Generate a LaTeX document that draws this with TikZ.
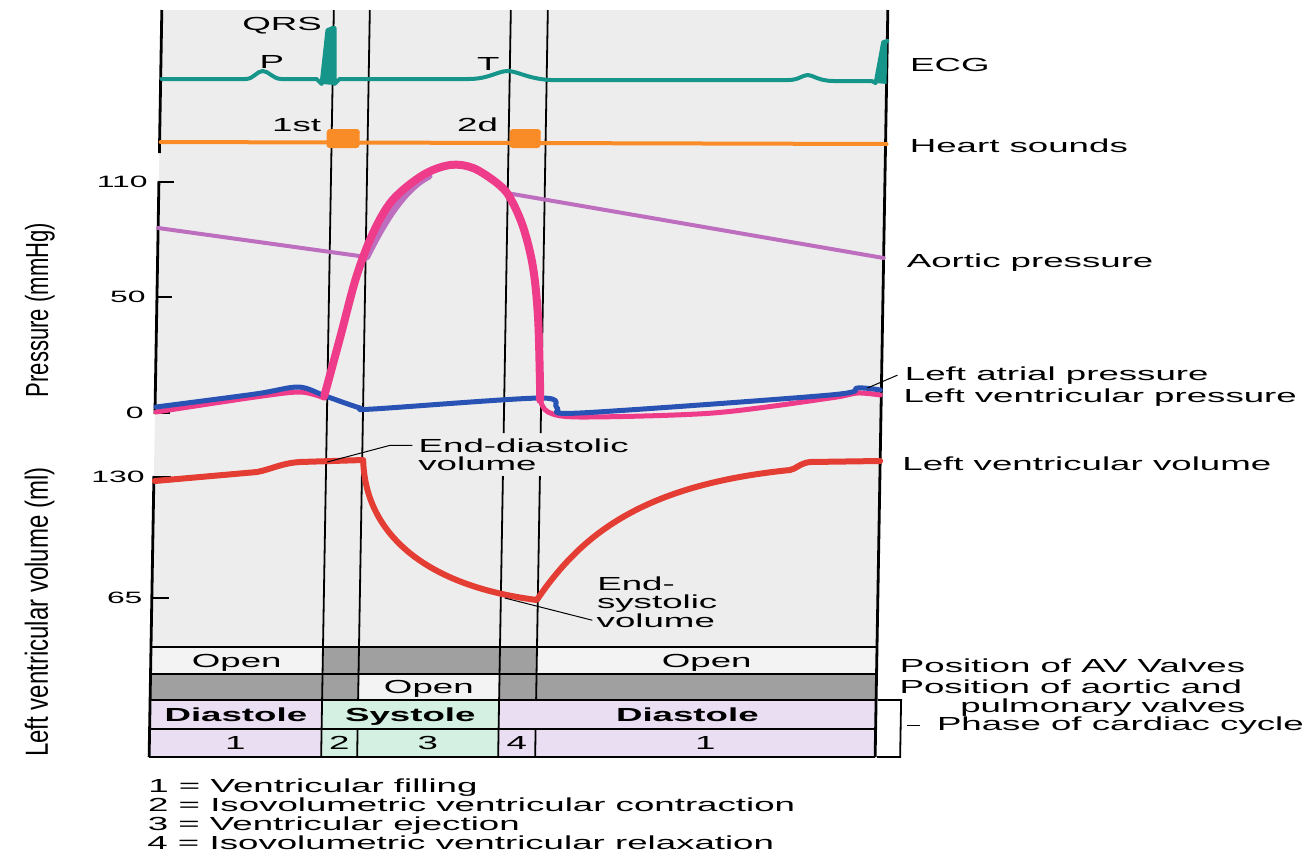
\documentclass[tikz,border=0pt]{standalone}
\usepackage{fontspec}
\setmainfont{Liberation Sans}[FakeStretch=1.94]
\newfontfamily\pressfont{Liberation Sans}[FakeStretch=0.69]
\newfontfamily\volfont{Liberation Sans}[FakeStretch=0.75]
\newcommand{\chartfont}{\fontsize{9.45}{9.8}\selectfont}
\newcommand{\tickfont}{\fontsize{8.2}{9}\selectfont}
\definecolor{ecgcol}{RGB}{22,150,138}
\definecolor{soundcol}{RGB}{250,140,40}
\definecolor{aortacol}{RGB}{190,110,190}
\definecolor{lvpcol}{RGB}{238,60,138}
\definecolor{lapcol}{RGB}{40,82,180}
\definecolor{lvvcol}{RGB}{228,62,52}
\definecolor{paper}{RGB}{237,237,237}
\definecolor{cellopen}{RGB}{243,243,243}
\definecolor{cellshut}{RGB}{160,160,160}
\definecolor{diast}{RGB}{234,222,242}
\definecolor{syst}{RGB}{212,240,226}
\tikzset{
  >=latex,
  trace/.style={line width=#1,line cap=round,line join=round},
  cellt/.style={text height=6.8pt,text depth=0pt},
}
\tikzstyle{axes}=[line width=1.4pt]
\tikzstyle{phaseline}=[line width=0.9pt]
\tikzstyle{leader}=[line width=0.5pt]
\tikzstyle{every node}=[font=\chartfont,inner sep=0pt]
\begin{document}
\begin{tikzpicture}[x=0.5pt,y=-0.5pt]
  \useasboundingbox (0,0) rectangle (1307,853);
  \begin{scope}[xslant=0.017]
    % paper and table cells
    \fill[paper] (162,10) rectangle (888,647);
    \fill[cellopen] (162,647) rectangle (334,674);
    \fill[cellshut] (334,647) rectangle (548,674);
    \fill[cellopen] (548,647) rectangle (888,674);
    \fill[cellshut] (162,674) rectangle (370,700);
    \fill[cellopen] (370,674) rectangle (511,700);
    \fill[cellshut] (511,674) rectangle (888,700);
    \fill[diast] (162,700) rectangle (334,757);
    \fill[syst] (334,700) rectangle (511,757);
    \fill[diast] (511,700) rectangle (888,757);
    \foreach \y in {647,674,700,729,757}
      \draw[phaseline] (162,\y) -- (888,\y);
    % phase boundaries
    \draw[phaseline] (334,10) -- (334,757);
    \draw[phaseline] (370,10) -- (370,700) (370,729) -- (370,757);
    \draw[phaseline] (511,10) -- (511,433) (511,476) -- (511,757);
    \draw[phaseline] (548,10) -- (548,433) (548,476) -- (548,700) (548,729) -- (548,757);
    % frame and axes
    \draw[axes] (162,10) -- (162,153);
    \draw[axes] (162,181) -- (162,414);
    \draw[axes] (162,476) -- (162,757);
    \draw[axes] (888,10) -- (888,757);
    \foreach \y/\v in {182/110,297/50,413/0}{
      \draw[axes] (162,\y) -- (177,\y);
      \node[anchor=east,font=\tickfont] (p\v) at (151,\y) {\v};
    }
    \foreach \y/\v in {477/130,598/65}{
      \draw[axes] (162,\y) -- (179,\y);
      \node[anchor=east,font=\tickfont] (v\v) at (153,\y) {\v};
    }
    \node[rotate=90,font=\pressfont\fontsize{16}{16}\selectfont] (plab) at (45,310) {Pressure (mmHg)};
    \node[rotate=90,font=\volfont\fontsize{16}{16}\selectfont] (vlab) at (50,612) {Left ventricular volume (ml)};
    % ECG
    \draw[trace=2pt,ecgcol] (163,79) -- (247,79) .. controls (255,79) and (258,71) .. (264,71)
      .. controls (270,71) and (274,79) .. (283,79) -- (318,79) -- (323,84) -- (328,30) -- (335,28)
      -- (336,84) -- (341,79) -- (470,79) .. controls (490,79) and (499,71) .. (509,71)
      .. controls (518,71) and (530,79) .. (552,80) -- (790,80) .. controls (800,80) and (804,75) .. (809,75)
      .. controls (814,75) and (820,81) .. (835,81) -- (873,81) -- (877,83) -- (884,42) -- (888,41);
    \fill[ecgcol] (323,84) -- (327,30) -- (332,26) -- (336,27) -- (336,85) -- cycle;
    \fill[ecgcol] (877,83) -- (882,42) -- (888,40) -- (888,84) -- cycle;
    \node[anchor=base west] (qrs) at (242.5,30) {QRS};
    \node[anchor=base west] (pw) at (260.5,68) {P};
    \node[anchor=base west] (tw) at (478,70) {T};
    % heart sounds
    \draw[trace=2pt,soundcol] (163,142) -- (889,144);
    \fill[soundcol,rounded corners=1.5pt] (329,129) rectangle (362,148);
    \fill[soundcol,rounded corners=1.5pt] (512,129) rectangle (543,148);
    \node[anchor=base west] (s1) at (274,131.5) {1st};
    \node[anchor=base west] (s2) at (459,131.5) {2d};
    % pressures
    \draw[trace=2pt,aortacol] (162,228) -- (371,257);
    \draw[trace=3.5pt,aortacol] (371,257) .. controls (385,228) and (405,190) .. (432,176);
    \draw[trace=2pt,aortacol] (510,193) -- (888,258);
    \draw[trace=2.5pt,lvpcol] plot[smooth] coordinates {(163,412) (262,397) (307,392) (331,398)};
    \draw[trace=2.5pt,lvpcol] plot[smooth] coordinates {(547,400) (555,412) (587,417) (720,413) (837,398) (864,393) (887,395)};
    \draw[trace=2.5pt,lapcol] plot[smooth] coordinates {(163,407) (262,394) (305,387) (332,396) (367,408) (380,409)
      (547,398) (564,408) (587,413) (837,395) (864,388) (887,390)};
    \draw[trace=4pt,lvpcol] plot[smooth,tension=0.55] coordinates {(331,396) (346,337) (361,277) (377,233) (396,200)
      (426,175) (453,165) (476,168) (500,183) (513,197) (527,227) (537.5,267) (543.4,317) (546.5,383) (547,400)};
    % volume
    \draw[trace=3pt,lvvcol] (163,481) -- (265,472) .. controls (280,469) and (290,463) .. (308,462) -- (371,460)
      .. controls (374,530) and (430,585) .. (547,600) .. controls (590,535) and (650,485) .. (798,470)
      .. controls (804,469) and (808,463) .. (818,462) -- (888,461);
    \coordinate (edvpt) at (335,462);
    \coordinate (esvpt) at (515,598);
    \coordinate (lapt) at (874,388);
    \node[anchor=base west] (edv) at (426,452) {End-diastolic};
    \node[anchor=base west] (edvb) at (426,470) {volume};
    \node[anchor=base west] (esv) at (607,590) {End-};
    \node[anchor=base west] (esvb) at (607,608) {systolic};
    \node[anchor=base west] (esvc) at (607,627) {volume};
    \draw[leader] ([xshift=-3pt]edv.west) -- ++(-22,0) -- (edvpt);
    \draw[leader] (esvpt) -- ([xshift=-2pt]esvc.west);
    % table text
    \node[cellt] (av1) at (248,660.5) {Open};
    \node[cellt] (av2) at (718,660.5) {Open};
    \node[cellt] (sl1) at (440.5,687) {Open};
    \node[cellt,font=\chartfont\bfseries] (ph1) at (248,714.5) {Diastole};
    \node[cellt,font=\chartfont\bfseries] (ph2) at (422.5,714.5) {Systole};
    \node[cellt,font=\chartfont\bfseries] (ph3) at (699.5,714.5) {Diastole};
    \node[cellt] (n1) at (248,743) {1};
    \node[cellt] (n2) at (352,743) {2};
    \node[cellt] (n3) at (440.5,743) {3};
    \node[cellt] (n4) at (529.5,743) {4};
    \node[cellt] (n5) at (718,743) {1};
    % right labels
    \node[anchor=base west] (ecg) at (911,71) {ECG};
    \node[anchor=base west] (hs) at (912,152) {Heart sounds};
    \node[anchor=base west] (aop) at (911,267) {Aortic pressure};
    \node[anchor=base west] (lap) at (911,380) {Left atrial pressure};
    \node[anchor=base west] (lvp) at (910,402) {Left ventricular pressure};
    \node[anchor=base west] (lvv) at (910,470) {Left ventricular volume};
    \node[anchor=base west] (avv) at (911,672) {Position of AV Valves};
    \node[anchor=base west] (aov) at (911,693) {Position of aortic and};
    \node[anchor=base west] (aovb) at (972,712) {pulmonary valves};
    \node[anchor=base west] (phase) at (949,730) {Phase of cardiac cycle};
    \draw[leader] (lapt) -- ([xshift=-3.5pt]lap.west);
    \draw[phaseline] (890,700) -- (913,700) -- (913,757) -- (890,757);
    \draw[leader] ([xshift=-15pt]phase.west) -- ([xshift=-8.5pt]phase.west);
    % key
    \foreach \t [count=\k] in {1 = Ventricular filling,2 = Isovolumetric ventricular contraction,
        3 = Ventricular ejection,4 = Isovolumetric ventricular relaxation}
      \node[anchor=base west] (key\k) at (161.5,{792+19.3*(\k-1)}) {\t};
  \end{scope}
\end{tikzpicture}
\end{document}
